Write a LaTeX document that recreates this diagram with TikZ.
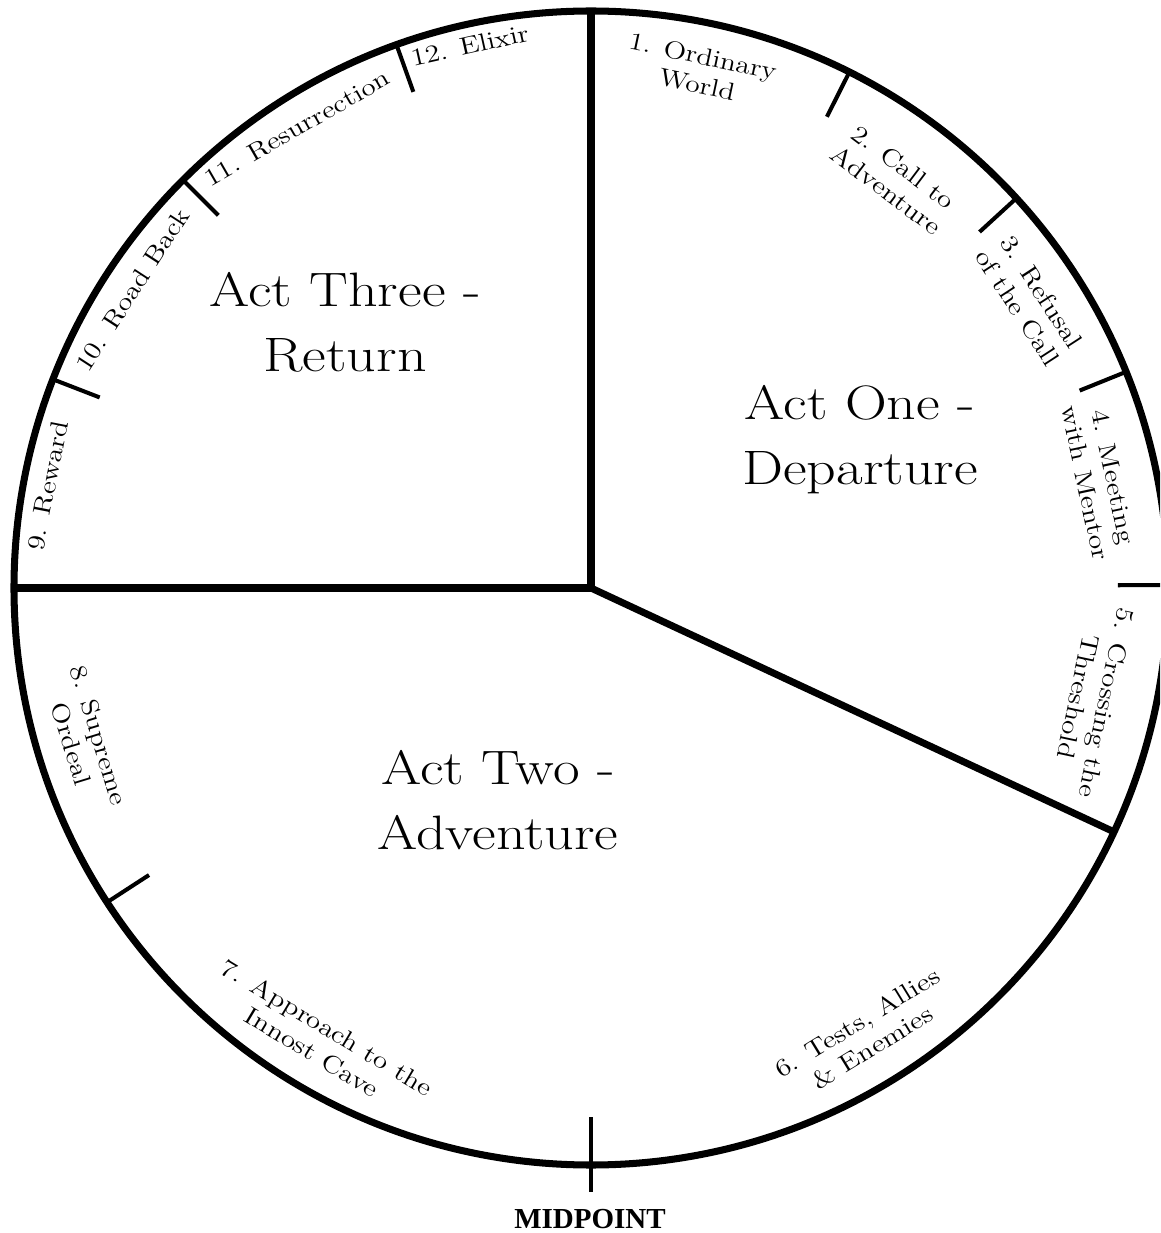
\documentclass[tikz,border=0pt]{standalone}
\usepackage{fontspec}
\newfontfamily\wheelfont{Latin Modern Roman}[FakeStretch=1.2]
\newfontfamily\markfont{Liberation Serif}
\tikzset{
  rim/.style={line width=4pt, draw=black},
  actline/.style={line width=4pt, draw=black, line cap=butt},
  beat/.style={line width=2.3pt, draw=black, line cap=butt},
  stagelabel/.style={font=\wheelfont\fontsize{14}{16.5}\selectfont, align=center, inner sep=0pt},
  actlabel/.style={font=\wheelfont\fontsize{27.5}{37}\selectfont, align=center, inner sep=0pt},
  marklabel/.style={font=\markfont\bfseries\fontsize{16.5}{18}\selectfont, inner sep=0pt},
}
\begin{document}
\begin{tikzpicture}[x=0.02cm, y=0.02cm]
\clip (-591,-645) rectangle (569,588);
\coordinate (hub) at (0,0);
% wheel and the three acts
\draw[rim] (hub) circle (577);
\draw[actline] (hub) -- (90:577);
\draw[actline] (hub) -- (180:577);
\draw[actline] (hub) -- (-25:577);
% stage ticks
\draw[beat] (63.4:527) -- (63.4:578);
\draw[beat] (42.5:527) -- (42.5:578);
\draw[beat] (22.0:527) -- (22.0:578);
\draw[beat] (0.3:527) -- (0.3:578);
\draw[beat] (-147.0:527) -- (-147.0:578);
\draw[beat] (158.8:527) -- (158.8:578);
\draw[beat] (135.0:527) -- (135.0:578);
\draw[beat] (109.7:527) -- (109.7:578);
\draw[beat] (-90:529) -- (-90:604);
% acts
\node[actlabel] (actone) at (269,148) {Act One -\\Departure};
\node[actlabel] (acttwo) at (-93,-212) {Act Two -\\Adventure};
\node[actlabel] (actthree) at (-246,266) {Act Three -\\Return};
% stages
\node[stagelabel, rotate=-12] (s1) at (78.1:529) {1. Ordinary\\World};
\node[stagelabel, rotate=-37] (s2) at (53.4:510) {2. Call to\\Adventure};
\node[stagelabel, rotate=-57] (s3) at (33.3:525) {3. Refusal\\of the Call};
\node[stagelabel, rotate=-78] (s4) at (12.0:520) {4. Meeting\\with Mentor};
\node[stagelabel, rotate=-102] (s5) at (-12.6:514) {5. Crossing the\\Threshold};
\node[stagelabel, rotate=31.5] (s6) at (-58.5:524) {6. Tests, Allies\\\& Enemies};
\node[stagelabel, rotate=-31] (s7) at (-121.0:527) {7. Approach to the\\Innost Cave};
\node[stagelabel, rotate=-73] (s8) at (-163.3:528) {8. Supreme\\Ordeal};
\node[stagelabel, rotate=79] (s9) at (169.3:553) {9. Reward};
\node[stagelabel, rotate=57] (s10) at (147.0:547) {10. Road Back};
\node[stagelabel, rotate=30] (s11) at (122.6:546) {11. Resurrection};
\node[stagelabel, rotate=12.6] (s12) at (102.6:556) {12. Elixir};
\node[marklabel] (midpoint) at (-1,-631) {MIDPOINT};
\end{tikzpicture}
\end{document}
